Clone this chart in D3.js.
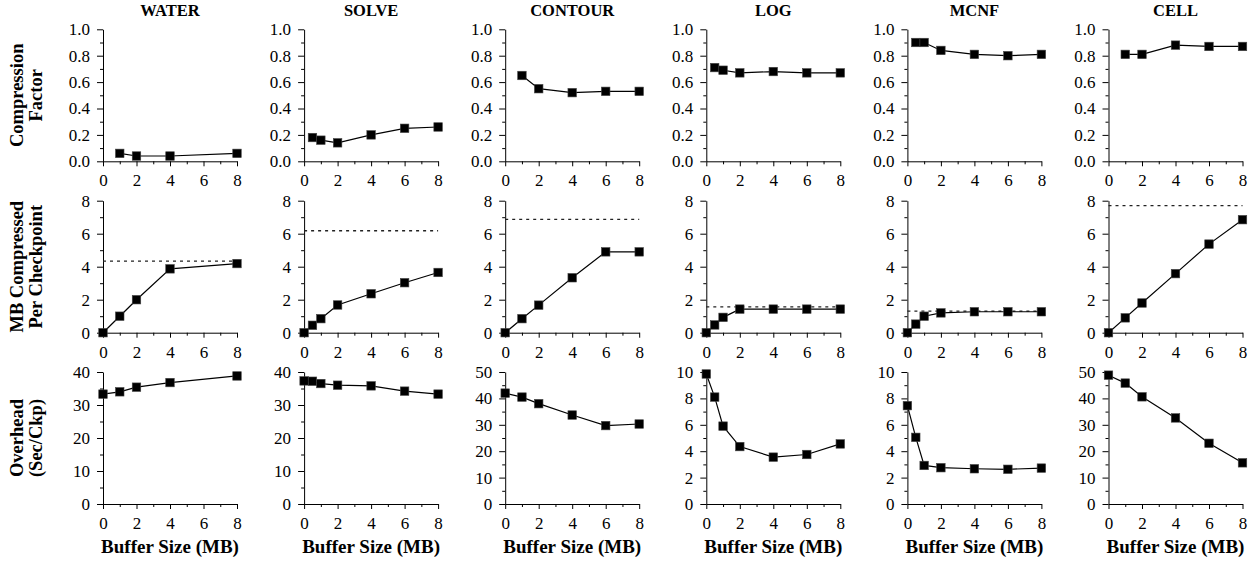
<!DOCTYPE html>
<html>
<head>
<meta charset="utf-8">
<script src="https://cdn.jsdelivr.net/npm/d3@7"></script>
<style>
  body { margin: 0; background: #fff; }
  svg { display: block; }
</style>
</head>
<body>
<div id="chart"></div>
<script>
// benchmarks, one column each
var names = ["WATER", "SOLVE", "CONTOUR", "LOG", "MCNF", "CELL"];

// row 1: compression factor
var cfX = [[1,2,4,8], [0.5,1,2,4,6,8], [1,2,4,6,8], [0.5,1,2,4,6,8], [0.5,1,2,4,6,8], [1,2,4,6,8]];
var cfY = [[0.06,0.04,0.04,0.06], [0.18,0.16,0.14,0.20,0.25,0.26], [0.65,0.55,0.52,0.53,0.53],
           [0.71,0.69,0.67,0.68,0.67,0.67], [0.90,0.90,0.84,0.81,0.80,0.81], [0.81,0.81,0.88,0.87,0.87]];

// row 2: MB compressed per checkpoint, plus the dotted limit
var mbX = [[0,1,2,4,8], [0,0.5,1,2,4,6,8], [0,1,2,4,6,8], [0,0.5,1,2,4,6,8], [0,0.5,1,2,4,6,8], [0,1,2,4,6,8]];
var mbY = [[0,1.0,2.0,3.87,4.19], [0,0.45,0.85,1.68,2.36,3.03,3.65], [0,0.85,1.67,3.33,4.9,4.9],
           [0,0.47,0.93,1.43,1.43,1.43,1.43], [0,0.52,1.0,1.2,1.27,1.27,1.27], [0,0.9,1.8,3.58,5.37,6.85]];
var mbLimit = [4.34, 6.18, 6.87, 1.56, 1.31, 7.7];

// row 3: overhead (sec/ckp)
var ovX = [[0,1,2,4,8], [0,0.5,1,2,4,6,8], [0,1,2,4,6,8], [0,0.5,1,2,4,6,8], [0,0.5,1,2,4,6,8], [0,1,2,4,6,8]];
var ovY = [[33.3,34.0,35.4,36.8,38.8], [37.3,37.2,36.5,36.0,35.8,34.2,33.3], [42.0,40.5,38.0,33.7,29.7,30.3],
           [9.85,8.1,5.9,4.35,3.55,3.75,4.55], [7.45,5.05,2.92,2.75,2.67,2.63,2.72], [48.8,45.8,40.6,32.6,23.0,15.6]];
var ovMax = [40, 40, 50, 10, 10, 50];
var ovStep = [10, 10, 10, 2, 2, 10];

var xTicks = [0, 2, 4, 6, 8];
var xMinor = [1, 3, 5, 7];

var rows = [
  { xs: cfX, ys: cfY, max: [1,1,1,1,1,1], step: [0.2,0.2,0.2,0.2,0.2,0.2], fmt: d3.format(".1f"),
    label: ["Compression", "Factor"] },
  { xs: mbX, ys: mbY, max: [8,8,8,8,8,8], step: [2,2,2,2,2,2], fmt: d3.format("d"), limit: mbLimit,
    label: ["MB Compressed", "Per Checkpoint"] },
  { xs: ovX, ys: ovY, max: ovMax, step: ovStep, fmt: d3.format("d"),
    label: ["Overhead", "(Sec/Ckp)"] }
];

var width = 1253, height = 562;
var left0 = 103, colStep = 201.1, pw = 134, ph = 132;
var rowTop = [29.3, 200.7, 372];
var serif = "'Liberation Serif', 'Times New Roman', Times, serif";

var svg = d3.select("#chart").append("svg")
  .attr("width", width).attr("height", height)
  .style("font-family", serif);

var x = d3.scaleLinear().domain([0, 8]).range([0, pw]);

rows.forEach(function(row, r){
  // row label, rotated
  var cy = rowTop[r] + ph / 2;
  row.label.forEach(function(t, k){
    svg.append("text")
      .attr("transform", "translate(" + (23 + k * 19) + "," + cy + ") rotate(-90)")
      .attr("text-anchor", "middle")
      .attr("font-weight", "bold")
      .attr("font-size", "18.5px")
      .text(t);
  });

  names.forEach(function(name, c){
    var g = svg.append("g")
      .attr("transform", "translate(" + (left0 + c * colStep) + "," + rowTop[r] + ")");
    var max = row.max[c], step = row.step[c];
    var y = d3.scaleLinear().domain([0, max]).range([ph, 0]);

    var major = d3.range(0, max + step / 10, step);
    var minor = d3.range(step / 2, max, step);

    // minor ticks first, no labels
    g.append("g").attr("transform", "translate(0," + ph + ")")
      .call(d3.axisBottom(x).tickValues(xMinor).tickSize(3).tickFormat(""))
      .call(function(a){ a.select(".domain").remove(); });
    g.append("g")
      .call(d3.axisLeft(y).tickValues(minor).tickSize(3).tickFormat(""))
      .call(function(a){ a.select(".domain").remove(); });

    var xa = g.append("g").attr("transform", "translate(0," + ph + ")")
      .call(d3.axisBottom(x).tickValues(xTicks).tickSize(5).tickSizeOuter(0).tickPadding(8));
    var ya = g.append("g")
      .call(d3.axisLeft(y).tickValues(major).tickSize(6).tickSizeOuter(0).tickPadding(7).tickFormat(row.fmt));

    [xa, ya].forEach(function(a){
      a.attr("font-family", serif).attr("font-size", "17px");
      a.selectAll("text").attr("fill", "#000");
    });
    g.selectAll("line, path.domain").attr("stroke", "#000").attr("stroke-width", 1);

    if (row.limit) {
      g.append("line")
        .attr("x1", x(0)).attr("x2", x(8))
        .attr("y1", y(row.limit[c])).attr("y2", y(row.limit[c]))
        .attr("stroke", "#222").attr("stroke-width", 1.3)
        .attr("stroke-dasharray", "3,4");
    }

    var pts = row.xs[c].map(function(v, i){ return [v, row.ys[c][i]]; });
    g.append("path")
      .datum(pts)
      .attr("fill", "none")
      .attr("stroke", "#000")
      .attr("stroke-width", 1.2)
      .attr("d", d3.line().x(function(d){ return x(d[0]); }).y(function(d){ return y(d[1]); }));

    var s = 8.5;
    g.selectAll("rect.pt").data(pts).enter().append("rect")
      .attr("class", "pt")
      .attr("x", function(d){ return x(d[0]) - s / 2; })
      .attr("y", function(d){ return y(d[1]) - s / 2; })
      .attr("width", s).attr("height", s)
      .attr("fill", "#000")
      .attr("stroke", "#444").attr("stroke-width", 0.6);

    if (r === 0) {
      g.append("text")
        .attr("x", pw / 2).attr("y", -13)
        .attr("text-anchor", "middle")
        .attr("font-weight", "bold")
        .attr("font-size", "16.5px")
        .text(name);
    }
    if (r === 2) {
      g.append("text")
        .attr("x", pw / 2).attr("y", 553 - rowTop[r])
        .attr("text-anchor", "middle")
        .attr("font-weight", "bold")
        .attr("font-size", "19px")
        .text("Buffer Size (MB)");
    }
  });
});
</script>
</body>
</html>
